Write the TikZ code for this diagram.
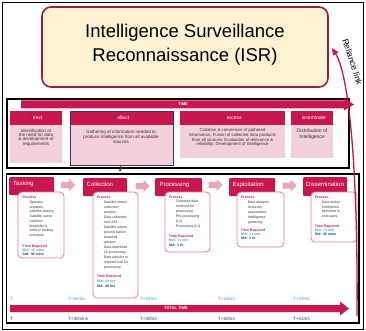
\documentclass[tikz,border=0pt]{standalone}
\usepackage{fontspec}
\setmainfont{Liberation Sans}
\usetikzlibrary{arrows.meta}
\definecolor{crim}{HTML}{C8174F}
\definecolor{maroonb}{HTML}{A01C45}
\definecolor{isrfill}{HTML}{FDF3D3}
\definecolor{pinkbody}{HTML}{F3D1DA}
\definecolor{pinkarrow}{HTML}{E9A7B7}
\definecolor{pinkline}{HTML}{E57A9B}
\definecolor{cyanT}{HTML}{2AA7E0}
\definecolor{navyT}{HTML}{1E3A6B}
\definecolor{purp}{HTML}{4A2A6A}
\definecolor{txtg}{HTML}{333333}
\newcommand\fsz[2]{\fontsize{#1}{#2}\selectfont}
\newcommand\bi{\makebox[7pt][l]{\textcolor{crim}{-}}}
\newcommand\ci{\hspace*{7pt}}
\newcommand\prc{\textcolor{crim}{\textbf{Process}}}
\newcommand\tmr[2]{\textcolor{crim}{\textbf{Time Required}}\\\textcolor{cyanT}{\textbf{Min: #1}}\\\textcolor{navyT}{\textbf{Std: #2}}}
\begin{document}
\begin{tikzpicture}[x=1pt,y=-1pt,
  box/.style={anchor=north west, inner sep=0, outer sep=0},
  hdr/.style={box, fill=crim, rounded corners=1pt},
  colhdr/.style={box, fill=crim},
  colbody/.style={box, fill=pinkbody},
  procbox/.style={box, draw=pinkline, line width=0.8pt, fill=white, rounded corners=4pt},
  hlbl/.style={anchor=west, inner sep=0, text=white, font=\fsz{6}{7}},
  clbl/.style={inner sep=0, text=white, font=\fsz{5}{6}},
  ctxt/.style={inner sep=0, align=center, text=txtg, font=\fsz{4.5}{4.4}},
  ltxt/.style={anchor=north west, inner sep=0, align=left, text=txtg, font=\fsz{3.5}{4.8}},
  ttxt/.style={anchor=north west, inner sep=0, align=left, font=\fsz{3.5}{4}},
  frm/.style={box, draw=black, line width=1.5pt},
  tl/.style={anchor=west, inner sep=0, font=\fsz{4.5}{5}},
  parrow/.pic={\fill[pinkarrow] (-7,-3) -- (1,-3) -- (1,-6) -- (7,0) -- (1,6) -- (1,3) -- (-7,3) -- cycle;}
]
\useasboundingbox (0,0) rectangle (366,331);
\fill[white] (0,0) rectangle (366,331);
\draw[line width=0.8pt] (2,2) rectangle (363.5,329);

% ISR
\node[box, draw=maroonb, line width=1.6pt, fill=isrfill, rounded corners=9pt, minimum width=286, minimum height=80] (isr) at (42,7) {};
\node[inner sep=0, align=center, font=\fsz{18.5}{24}] (isrtxt) at (185,45) {Intelligence Surveillance\\Reconnaissance (ISR)};

% TIME frame
\node[frm, minimum width=342, minimum height=69] (timeframe) at (7,99) {};
\fill[crim] (21,100.5) -- (344,100.5) -- (344,98.5) -- (354,104.5) -- (344,110.5) -- (344,108.5) -- (21,108.5) -- cycle;
\node[inner sep=0, text=white, font=\fsz{4}{5}\bfseries] (timelbl) at (183,104.5) {TIME};

% columns
\node[colbody, minimum width=52, minimum height=38] (dirb) at (10,125) {};
\node[colhdr, minimum width=52, minimum height=14] (dirh) at (10,111) {};
\node[clbl] (dirl) at (dirh.center) {\textcolor{purp}{D}irect};
\node[ctxt] (dirt) at (36,137.5) {Identification of\\the need for data\\\& development of\\requirements};

\node[colbody, minimum width=103, minimum height=40] (colb) at (70,125) {};
\node[colhdr, minimum width=103, minimum height=14] (colh) at (70,111) {};
\draw[purp, line width=0.9pt] (colh.north west) rectangle (colb.south east);
\node[clbl] (coll) at (colh.center) {\textcolor{purp}{C}ollect};
\node[ctxt, font=\fsz{4.5}{5}] (colt) at (121,136.7) {Gathering of information needed to\\produce Intelligence from all available\\sources};
\coordinate (colarr) at (120,172);
\draw[purp, line width=0.6pt, -{Stealth[length=3pt,width=2.5pt]}] (colb.south -| colarr) -- (colarr);

\node[colbody, minimum width=105, minimum height=33] (prob) at (180,125) {};
\node[colhdr, minimum width=105, minimum height=14] (proh) at (180,111) {};
\node[clbl] (prol) at (proh.center) {\textcolor{purp}{P}rocess};
\node[ctxt, font=\fsz{4.3}{4}] (prot) at (232.5,137.7) {Collation \& conversion of gathered\\information; Fusion of collected data products\\from all sources; Evaluation of relevance \&\\reliability; Development of Intelligence};

\node[colbody, minimum width=42, minimum height=33] (disb) at (291,125) {};
\node[colhdr, minimum width=42, minimum height=14] (dish) at (291,111) {};
\node[clbl] (disl) at (dish.center) {\textcolor{purp}{D}isseminate};
\node[ctxt, font=\fsz{5}{5.6}] (dist) at (312,134.5) {Distribution of\\Intelligence};

% main frame
\node[frm, minimum width=352.5, minimum height=149] (mainframe) at (6.5,174) {};

% phase headers
\node[hdr, minimum width=45, minimum height=18] (tasking) at (9,177) {};
\node[hlbl] (taskingl) at (13,184) {Tasking};
\node[hdr, minimum width=44, minimum height=18] (collection) at (83,178) {};
\node[hlbl] (collectionl) at (86.5,184.5) {Collection};
\node[hdr, minimum width=47, minimum height=18] (processing) at (155,178) {};
\node[hlbl] (processingl) at (159.3,184.5) {Processing};
\node[hdr, minimum width=46, minimum height=18] (exploitation) at (229,178) {};
\node[hlbl] (exploitationl) at (232.5,184.5) {Exploitation};
\node[hdr, minimum width=44, minimum height=19] (dissemination) at (303,177) {};
\node[hlbl] (disseminationl) at (306,184) {Dissemination};

\pic (ar1) at (68,185) {parrow};
\pic (ar2) at (142.5,186) {parrow};
\pic (ar3) at (215.5,185) {parrow};
\pic (ar4) at (289.5,185.5) {parrow};

% process boxes
\node[procbox, minimum width=46, minimum height=66] (taskbox) at (18,192) {};
\node[ltxt, font=\fsz{3.5}{4.7}] (tasklist) at (22.5,196.2) {\prc\\\bi Operator\\\ci requests\\\ci satellite tasking\\\bi Satellite owner\\\ci confirms\\\ci feasibility \&\\\ci adds to tasking\\\ci schedule};
\node[ttxt, font=\fsz{3.5}{3.8}] (tasktime) at (22.5,245.2) {\tmr{<5 mins}{30 mins}};

\node[procbox, minimum width=45, minimum height=106] (colbox) at (93,192) {};
\node[ltxt, font=\fsz{3.5}{5}] (collist) at (96.7,196.2) {\prc\\\bi Satellite enters\\\ci collection\\\ci window\\\bi Data collected\\\ci over AOI\\\bi Satellite enters\\\ci ground station\\\ci downlink\\\ci window\\\bi Data download\\\bi L0 processing\\\bi Data transfer to\\\ci relevant hub for\\\ci processing};
\node[ttxt, font=\fsz{3.5}{5}] (coltime) at (96.7,275.2) {\tmr{24 hrs}{48 hrs}};

\node[procbox, minimum width=45, minimum height=60] (probox) at (165,192) {};
\node[ltxt, font=\fsz{3.5}{4.85}] (prolist) at (168.7,195.5) {\prc\\\bi Collected data\\\ci received for\\\ci processing\\\bi Pre-processing\\\ci (L1)\\\bi Processing (L2)};
\node[ttxt, font=\fsz{3.5}{4.3}] (protime) at (168.7,234.9) {\tmr{<1 min}{1 hr}};

\node[procbox, minimum width=47, minimum height=55] (expbox) at (237,192) {};
\node[ltxt, font=\fsz{3.5}{5}] (explist) at (240.7,195.9) {\prc\\\bi Data analysis\\\bi Accuracy\\\ci assessment\\\bi Intelligence\\\ci gathering};
\node[ttxt, font=\fsz{3.5}{3.7}] (exptime) at (240.7,229.2) {\tmr{<1 min}{1 hr}};

\node[procbox, minimum width=46, minimum height=50] (disbox) at (311,192) {};
\node[ltxt, font=\fsz{3.5}{4.8}] (dislist) at (314.7,195.9) {\prc\\\bi Data and/or\\\ci intelligence\\\ci delivered to\\\ci end users};
\node[ttxt, font=\fsz{3.5}{3.7}] (distime) at (314.7,225.2) {\tmr{<1 min}{30 mins}};

% timeline
\node[tl, text=cyanT] (a0) at (10,299.3) {T};
\node[tl, text=cyanT] (a1) at (68,299.3) {T+5mins};
\node[tl, text=cyanT] (a2) at (140,299.3) {T+24hrs};
\node[tl, text=cyanT] (a3) at (218,299.3) {T+24hrs};
\node[tl, text=cyanT] (a4) at (293,299.3) {T+24hrs};
\fill[crim] (10,305) -- (340,305) -- (340,301.5) -- (349,308.5) -- (340,315.5) -- (340,312) -- (10,312) -- cycle;
\node[inner sep=0, text=white, font=\fsz{4}{5}\bfseries] (totlbl) at (176,308.5) {TOTAL TIME};
\node[tl, text=navyT] (b0) at (10,319) {T};
\node[tl, text=navyT] (b1) at (68,319) {T+30mins};
\node[tl, text=navyT] (b2) at (140,319) {T+40hrs};
\node[tl, text=navyT] (b3) at (218,319) {T+50hrs};
\node[tl, text=navyT] (b4) at (293,319) {T+51hrs};

% reliance link
\coordinate (relstart) at (357,316);
\draw[crim, line width=1.3pt, -{Triangle[length=7pt,width=6pt]}] (relstart) .. controls (358,200) and (352,80) .. ([shift={(4,1)}]isr.east);
\node[rotate=-72, inner sep=0, font=\fsz{8.5}{9}] (rel) at (352.5,62) {Reliance link};
\end{tikzpicture}
\end{document}
